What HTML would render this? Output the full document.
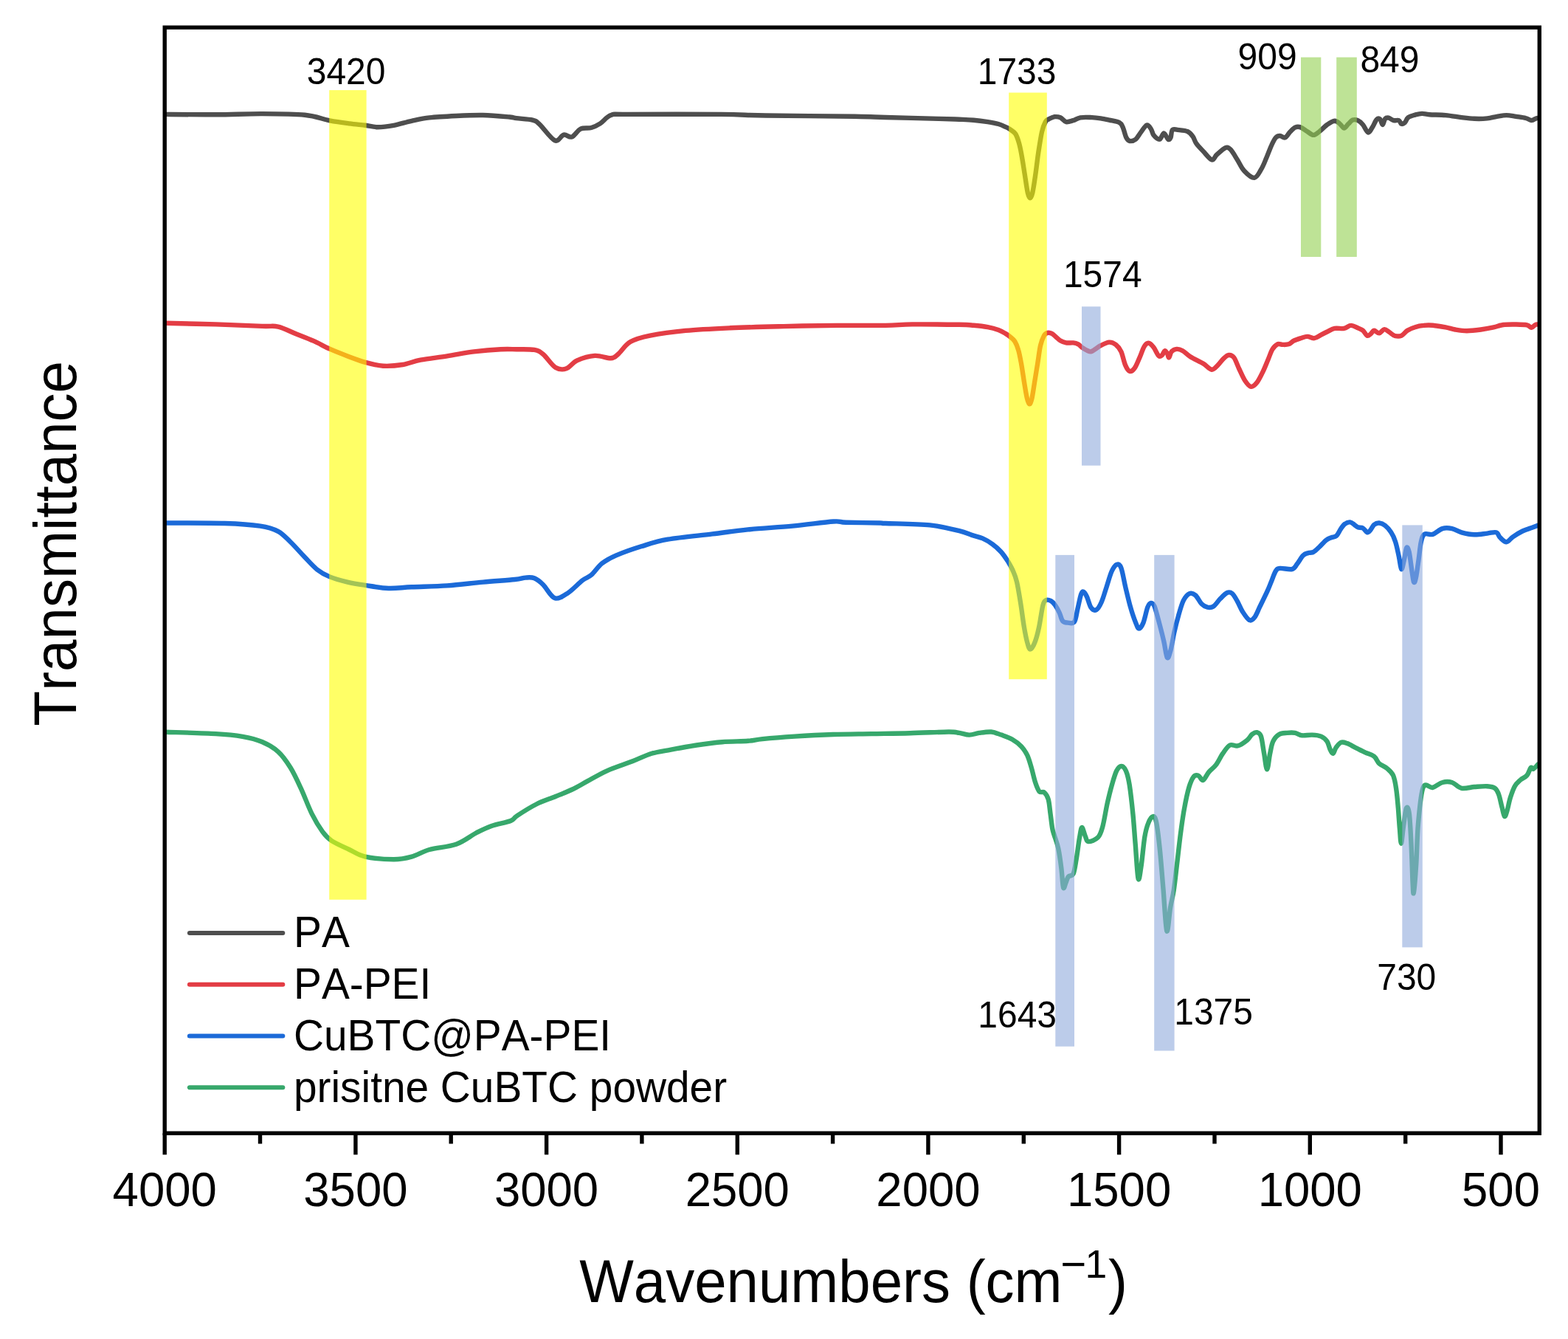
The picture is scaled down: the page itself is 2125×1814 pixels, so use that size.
<!DOCTYPE html><html><head><meta charset="utf-8"><title>FTIR spectra</title>
<style>html,body{margin:0;padding:0;background:#fff;}svg{display:block;}text{font-family:"Liberation Sans", Arial, sans-serif;fill:#000;font-kerning:none;}</style></head><body>
<svg width="2125" height="1814" viewBox="0 0 2125 1814">
<g>
<rect x="0" y="0" width="2125" height="1814" fill="#fff"/>
<path d="M224.8,154.9 C236.1,155.0 270.7,155.4 292.4,155.3 C314.1,155.2 335.0,154.0 355.1,154.1 C375.2,154.2 397.7,154.3 413.0,155.8 C428.3,157.3 436.7,161.4 446.8,163.3 C456.9,165.2 465.3,166.3 473.4,167.4 C481.4,168.5 488.7,169.0 495.1,169.8 C501.5,170.6 505.6,172.2 512.0,172.2 C518.4,172.2 526.1,171.2 533.7,169.8 C541.3,168.4 549.8,165.5 557.8,163.8 C565.8,162.1 571.9,160.5 582.0,159.4 C592.1,158.3 606.1,157.6 618.2,157.0 C630.3,156.4 642.3,155.8 654.4,156.0 C666.5,156.2 683.0,157.8 690.6,158.5 C698.2,159.2 694.8,159.5 700.0,160.2 C705.2,160.9 716.5,161.2 721.7,162.6 C726.9,164.0 726.4,164.0 731.4,168.6 C736.4,173.2 746.5,188.0 751.9,190.3 C757.3,192.6 760.2,183.4 764.0,182.6 C767.8,181.8 771.0,186.8 774.8,185.5 C778.6,184.2 782.5,176.7 786.9,174.6 C791.3,172.5 797.0,174.2 801.4,173.0 C805.8,171.8 809.0,170.2 813.4,167.4 C817.8,164.6 821.9,158.2 827.9,156.1 C833.9,154.0 824.7,155.1 849.6,154.9 C874.5,154.7 946.1,154.6 977.5,154.9 C1008.9,155.2 1007.6,156.0 1037.8,156.5 C1068.0,157.0 1131.5,157.4 1158.5,157.8 C1185.5,158.2 1181.0,158.5 1200.0,159.0 C1219.0,159.5 1255.7,160.4 1272.4,160.9 C1289.1,161.4 1292.2,161.4 1300.0,161.7 C1307.8,162.0 1312.9,162.1 1319.3,162.7 C1325.7,163.2 1333.0,164.2 1338.6,165.1 C1344.2,166.0 1349.1,166.9 1353.1,168.0 C1357.1,169.1 1360.0,170.6 1362.7,171.9 C1365.5,173.1 1367.2,174.1 1369.5,175.7 C1371.8,177.3 1374.3,178.4 1376.3,181.5 C1378.2,184.6 1379.6,188.9 1381.1,194.1 C1382.5,199.2 1383.7,205.3 1384.9,212.4 C1386.2,219.5 1387.5,228.5 1388.8,236.5 C1390.1,244.6 1391.5,255.3 1392.7,260.7 C1393.9,266.0 1394.9,268.4 1396.0,268.4 C1397.2,268.4 1398.2,266.0 1399.4,260.7 C1400.6,255.3 1402.0,245.4 1403.3,236.5 C1404.6,227.7 1405.7,217.2 1407.1,207.6 C1408.6,197.9 1410.4,185.7 1412.0,178.6 C1413.6,171.5 1415.2,168.0 1416.8,165.1 C1418.4,162.2 1419.7,162.4 1421.6,161.2 C1423.6,160.1 1425.8,158.7 1428.4,158.3 C1431.0,158.0 1434.3,158.2 1437.1,159.3 C1439.8,160.4 1441.9,164.5 1444.8,165.1 C1447.7,165.7 1451.2,164.1 1454.4,163.2 C1457.7,162.2 1459.8,160.0 1464.1,159.3 C1468.4,158.6 1475.4,159.0 1480.0,159.1 C1484.6,159.3 1487.7,159.7 1491.6,160.3 C1495.4,160.9 1498.9,161.6 1503.2,162.6 C1507.4,163.6 1514.0,164.4 1517.1,166.1 C1520.2,167.7 1520.2,169.1 1521.7,172.4 C1523.2,175.8 1524.8,183.2 1526.3,186.3 C1527.9,189.4 1528.8,190.6 1531.0,191.0 C1533.1,191.4 1536.6,190.6 1539.1,188.7 C1541.6,186.7 1543.5,182.6 1546.0,179.4 C1548.5,176.2 1551.8,170.3 1554.1,169.5 C1556.5,168.8 1558.4,172.5 1559.9,174.8 C1561.5,177.0 1561.5,180.5 1563.4,182.9 C1565.3,185.2 1569.2,189.0 1571.5,188.7 C1573.8,188.3 1575.4,180.5 1577.3,180.5 C1579.2,180.5 1581.5,187.7 1583.1,188.7 C1584.6,189.6 1585.6,188.5 1586.6,186.3 C1587.5,184.2 1587.3,177.6 1588.9,175.9 C1590.4,174.2 1592.4,175.5 1595.8,175.9 C1599.3,176.3 1606.3,176.7 1609.7,178.2 C1613.2,179.8 1614.8,182.5 1616.7,185.2 C1618.6,187.9 1619.0,191.2 1621.3,194.4 C1623.6,197.7 1627.1,201.2 1630.6,204.9 C1634.1,208.5 1639.1,215.7 1642.2,216.5 C1645.3,217.2 1646.0,212.2 1649.1,209.5 C1652.2,206.8 1657.6,201.4 1660.7,200.2 C1663.8,199.1 1664.9,199.8 1667.7,202.6 C1670.4,205.3 1673.8,211.6 1676.9,216.5 C1680.0,221.3 1682.3,227.5 1686.2,231.5 C1690.0,235.6 1696.2,241.2 1700.0,240.8 C1703.8,240.4 1706.6,233.6 1709.3,229.2 C1712.0,224.8 1713.9,219.5 1716.2,214.1 C1718.5,208.7 1721.0,201.4 1723.2,196.8 C1725.3,192.1 1727.0,188.5 1729.0,186.3 C1730.9,184.2 1732.6,184.0 1734.8,184.0 C1736.9,184.0 1739.4,187.3 1741.7,186.3 C1744.0,185.4 1746.3,180.5 1748.7,178.2 C1751.0,175.9 1753.3,173.4 1755.6,172.4 C1757.9,171.5 1759.8,171.5 1762.6,172.4 C1765.3,173.4 1768.9,176.5 1771.8,178.2 C1774.7,180.0 1777.2,182.9 1779.9,182.9 C1782.6,182.9 1784.9,180.5 1788.0,178.2 C1791.1,175.9 1795.0,171.4 1798.5,169.0 C1801.9,166.5 1806.0,163.9 1808.9,163.7 C1811.8,163.6 1813.7,166.2 1815.8,167.8 C1818.0,169.4 1819.7,173.6 1821.6,173.6 C1823.6,173.6 1825.5,169.6 1827.4,167.8 C1829.3,166.0 1831.1,163.4 1833.2,162.6 C1835.3,161.8 1837.8,162.1 1840.2,163.2 C1842.5,164.2 1844.8,166.3 1847.1,169.0 C1849.4,171.7 1851.9,178.8 1854.1,179.4 C1856.2,180.0 1857.9,175.3 1859.9,172.4 C1861.8,169.5 1863.9,163.8 1865.6,162.0 C1867.4,160.2 1868.9,160.3 1870.3,161.4 C1871.6,162.6 1872.6,169.1 1873.8,169.0 C1874.9,168.9 1875.9,162.4 1877.2,160.9 C1878.6,159.3 1879.9,159.3 1881.9,159.7 C1883.8,160.1 1886.5,162.6 1888.8,163.2 C1891.1,163.7 1894.0,162.4 1895.8,163.2 C1897.5,163.9 1897.9,167.3 1899.2,167.8 C1900.6,168.3 1902.3,167.5 1903.9,166.1 C1905.4,164.6 1906.2,160.9 1908.5,159.1 C1910.8,157.4 1914.7,156.5 1917.8,155.6 C1920.9,154.8 1923.8,154.0 1927.0,153.9 C1930.3,153.8 1932.0,154.8 1937.4,155.2 C1942.7,155.6 1951.9,155.4 1959.1,156.1 C1966.3,156.7 1974.3,158.3 1980.8,159.1 C1987.3,159.9 1992.4,160.6 1998.2,160.8 C2004.0,161.1 2010.5,160.9 2015.6,160.4 C2020.6,159.9 2024.3,158.5 2028.6,157.8 C2032.9,157.1 2037.3,156.1 2041.6,156.1 C2046.0,156.1 2050.3,157.2 2054.7,157.8 C2059.0,158.5 2064.2,159.1 2067.7,160.0 C2071.2,160.8 2073.2,162.9 2075.5,163.0 C2077.8,163.1 2080.2,160.9 2081.6,160.4 C2083.0,159.9 2083.8,160.0 2084.2,160.0" fill="none" stroke="#4e4e4e" stroke-width="6.4" stroke-linejoin="round" stroke-linecap="round"/>
<path d="M224.8,437.8 C236.1,438.1 270.7,438.7 292.4,439.4 C314.1,440.1 341.0,441.4 355.1,441.9 C369.2,442.4 369.2,440.9 376.9,442.6 C384.5,444.3 393.0,449.0 401.0,452.2 C409.0,455.4 417.5,458.5 425.1,461.9 C432.7,465.3 439.2,469.3 446.8,472.7 C454.4,476.1 462.9,479.4 471.0,482.4 C479.1,485.4 487.1,488.6 495.1,490.8 C503.1,493.0 510.8,495.2 519.2,495.7 C527.7,496.2 537.3,495.3 545.8,494.0 C554.2,492.7 559.8,489.6 569.9,487.7 C580.0,485.8 594.0,484.3 606.1,482.4 C618.2,480.5 630.2,477.9 642.3,476.4 C654.4,474.9 668.9,473.7 678.5,473.2 C688.1,472.7 692.4,473.1 700.0,473.2 C707.6,473.3 718.1,472.8 724.1,473.9 C730.1,475.0 731.4,476.0 736.2,480.0 C741.0,484.0 747.9,494.9 753.1,498.1 C758.3,501.3 762.8,500.9 767.6,499.3 C772.4,497.7 775.6,491.3 782.0,488.4 C788.4,485.5 798.6,482.4 806.2,481.9 C813.9,481.4 822.7,485.6 827.9,485.3 C833.1,485.0 833.1,483.7 837.5,480.0 C841.9,476.3 847.1,467.3 854.4,463.1 C861.6,458.9 868.5,457.1 881.0,454.6 C893.5,452.1 911.1,449.6 929.2,447.9 C947.3,446.2 967.5,445.3 989.6,444.3 C1011.7,443.3 1037.9,442.7 1062.0,442.1 C1086.1,441.5 1111.4,441.1 1134.4,440.9 C1157.4,440.7 1183.0,441.1 1200.0,440.9 C1217.0,440.6 1219.5,439.6 1236.2,439.4 C1252.9,439.2 1286.1,439.6 1300.0,439.8 C1313.9,440.0 1312.9,440.2 1319.3,440.8 C1325.7,441.3 1333.0,442.1 1338.6,443.2 C1344.2,444.2 1349.1,445.6 1353.1,447.0 C1357.1,448.5 1360.0,450.2 1362.7,451.9 C1365.5,453.5 1367.4,454.9 1369.5,456.7 C1371.6,458.4 1373.5,459.6 1375.3,462.5 C1377.1,465.4 1378.7,469.1 1380.1,474.1 C1381.6,479.0 1382.7,485.3 1384.0,492.4 C1385.3,499.5 1386.6,508.8 1387.8,516.5 C1389.1,524.2 1390.5,533.6 1391.7,538.7 C1392.9,543.9 1394.0,547.3 1395.1,547.4 C1396.2,547.6 1397.2,544.8 1398.5,539.7 C1399.7,534.5 1401.0,524.4 1402.3,516.5 C1403.6,508.6 1404.9,500.4 1406.2,492.4 C1407.5,484.4 1408.6,474.5 1410.0,468.3 C1411.5,462.0 1413.3,457.6 1414.9,454.7 C1416.5,451.9 1417.9,451.4 1419.7,450.9 C1421.5,450.4 1423.6,450.9 1425.5,451.9 C1427.4,452.8 1429.3,455.1 1431.3,456.7 C1433.2,458.3 1434.8,460.2 1437.1,461.5 C1439.3,462.8 1441.9,463.9 1444.8,464.4 C1447.7,464.9 1451.7,464.1 1454.4,464.4 C1457.2,464.7 1459.1,465.2 1461.2,466.3 C1463.3,467.5 1464.9,469.7 1467.0,471.2 C1469.1,472.6 1471.7,474.2 1473.7,475.0 C1475.8,475.8 1476.6,477.1 1479.5,476.0 C1482.5,474.9 1487.6,470.3 1491.6,468.2 C1495.5,466.2 1499.7,463.8 1503.2,463.6 C1506.6,463.4 1509.7,464.9 1512.4,467.1 C1515.1,469.2 1517.3,471.7 1519.4,476.3 C1521.5,481.0 1523.2,490.4 1525.2,494.9 C1527.1,499.3 1528.8,502.4 1531.0,503.0 C1533.1,503.6 1535.6,501.6 1537.9,498.3 C1540.2,495.1 1542.7,488.1 1544.9,483.3 C1547.0,478.5 1548.7,472.5 1550.7,469.4 C1552.6,466.3 1554.3,464.6 1556.5,464.8 C1558.6,464.9 1561.1,467.6 1563.4,470.5 C1565.7,473.4 1568.4,480.4 1570.4,482.1 C1572.3,483.9 1573.6,482.1 1575.0,481.0 C1576.3,479.8 1577.3,475.6 1578.5,475.2 C1579.6,474.8 1581.0,477.1 1581.9,478.7 C1582.9,480.2 1583.3,484.8 1584.3,484.4 C1585.2,484.1 1586.0,478.3 1587.7,476.3 C1589.5,474.4 1592.2,473.1 1594.7,472.9 C1597.2,472.7 1599.7,473.4 1602.8,475.2 C1605.9,476.9 1608.6,480.4 1613.2,483.3 C1617.8,486.2 1625.8,489.7 1630.6,492.6 C1635.4,495.4 1638.9,500.3 1642.2,500.7 C1645.5,501.0 1647.6,497.4 1650.3,494.9 C1653.0,492.4 1655.9,487.9 1658.4,485.6 C1660.9,483.3 1663.0,481.2 1665.3,481.0 C1667.7,480.8 1670.0,481.4 1672.3,484.4 C1674.6,487.5 1676.7,494.3 1679.2,499.5 C1681.7,504.7 1684.6,511.7 1687.3,515.7 C1690.0,519.8 1692.7,523.4 1695.5,523.8 C1698.2,524.2 1700.9,521.4 1703.6,518.0 C1706.2,514.6 1709.1,508.5 1711.6,503.4 C1714.1,498.3 1716.4,492.2 1718.5,487.2 C1720.7,482.2 1722.2,476.8 1724.3,473.3 C1726.4,469.8 1729.0,467.4 1731.3,466.3 C1733.6,465.3 1735.7,466.9 1738.2,466.9 C1740.7,466.9 1743.8,467.2 1746.3,466.3 C1748.8,465.5 1750.6,463.1 1753.3,461.7 C1756.0,460.3 1759.5,459.2 1762.6,458.2 C1765.6,457.3 1768.7,455.9 1771.8,455.9 C1774.9,455.9 1778.0,458.6 1781.1,458.2 C1784.2,457.8 1787.3,455.1 1790.4,453.6 C1793.4,452.0 1796.5,450.4 1799.6,449.0 C1802.7,447.5 1805.2,445.6 1808.9,444.9 C1812.6,444.2 1818.0,445.6 1821.6,444.9 C1825.3,444.2 1827.8,440.9 1830.9,440.9 C1834.0,440.8 1837.5,443.2 1840.2,444.3 C1842.9,445.5 1845.0,446.1 1847.1,447.8 C1849.2,449.5 1851.2,454.0 1852.9,454.8 C1854.6,455.5 1856.0,453.6 1857.5,452.4 C1859.1,451.3 1860.2,448.0 1862.2,447.8 C1864.1,447.6 1866.8,451.6 1869.1,451.3 C1871.4,451.0 1873.8,446.3 1876.1,446.1 C1878.4,445.9 1880.7,448.7 1883.0,450.1 C1885.3,451.6 1887.3,454.0 1890.0,454.8 C1892.7,455.5 1896.3,455.9 1899.2,454.8 C1902.1,453.6 1904.3,449.7 1907.3,447.8 C1910.4,445.9 1914.1,444.3 1917.8,443.2 C1921.4,442.0 1925.4,441.2 1929.4,440.9 C1933.3,440.5 1936.8,440.4 1941.7,440.8 C1946.7,441.3 1954.0,442.5 1959.1,443.4 C1964.2,444.4 1967.4,445.7 1972.1,446.5 C1976.9,447.3 1982.0,448.2 1987.8,448.2 C1993.6,448.2 2000.8,447.3 2006.9,446.5 C2013.0,445.7 2019.2,444.5 2024.3,443.4 C2029.3,442.4 2032.2,440.6 2037.3,440.0 C2042.4,439.3 2049.3,439.5 2054.7,439.5 C2060.0,439.6 2066.0,439.7 2069.4,440.4 C2072.9,441.1 2073.6,444.0 2075.5,443.9 C2077.4,443.8 2079.3,440.7 2080.7,440.0 C2082.2,439.2 2083.6,439.6 2084.2,439.5" fill="none" stroke="#e33d45" stroke-width="6.4" stroke-linejoin="round" stroke-linecap="round"/>
<path d="M224.8,708.5 C238.1,708.6 283.2,708.3 304.5,709.0 C325.8,709.7 340.6,710.8 352.7,712.6 C364.8,714.4 370.1,716.2 376.9,719.8 C383.7,723.4 387.7,728.5 393.7,734.3 C399.7,740.1 407.0,748.6 413.0,754.8 C419.0,761.0 424.3,767.3 429.9,771.7 C435.5,776.1 439.9,778.6 446.8,781.4 C453.7,784.2 462.9,786.7 471.0,788.6 C479.1,790.5 485.9,791.5 495.1,792.9 C504.4,794.3 516.0,796.6 526.5,797.0 C537.0,797.4 544.5,795.9 557.8,795.3 C571.1,794.7 590.0,794.5 606.1,793.4 C622.2,792.3 639.1,790.0 654.4,788.6 C669.7,787.2 688.2,786.0 697.8,785.0 C707.4,784.0 707.7,782.9 712.1,782.6 C716.5,782.3 720.1,781.7 724.1,783.3 C728.1,784.9 731.6,787.7 736.2,792.2 C740.8,796.7 746.3,808.5 751.9,810.3 C757.5,812.1 763.8,807.1 770.0,803.1 C776.2,799.1 784.1,790.2 789.3,786.2 C794.5,782.2 797.0,782.7 801.4,778.9 C805.8,775.1 810.2,767.7 815.8,763.3 C821.4,758.9 826.2,756.2 835.1,752.4 C844.0,748.6 857.2,743.9 868.9,740.3 C880.6,736.7 889.0,733.5 905.1,730.7 C921.2,727.9 947.3,725.6 965.4,723.4 C983.5,721.2 995.6,719.2 1013.7,717.4 C1031.8,715.6 1054.7,714.4 1074.0,712.6 C1093.3,710.8 1117.4,707.3 1129.5,706.5 C1141.6,705.7 1135.9,707.5 1146.4,707.8 C1156.9,708.1 1183.4,708.3 1192.3,708.5 C1201.2,708.7 1188.7,708.5 1200.0,709.0 C1211.3,709.5 1243.6,709.7 1260.3,711.4 C1277.0,713.1 1290.6,717.0 1300.0,719.2 C1309.4,721.5 1311.7,723.2 1317.0,724.9 C1322.2,726.6 1326.9,727.3 1331.7,729.4 C1336.4,731.5 1341.1,734.3 1345.2,737.3 C1349.4,740.3 1353.1,743.7 1356.5,747.5 C1359.9,751.3 1362.9,755.8 1365.6,759.9 C1368.2,764.1 1370.3,767.6 1372.4,772.4 C1374.4,777.1 1376.1,780.3 1378.0,788.2 C1379.9,796.1 1381.9,809.6 1383.6,820.0 C1385.2,830.3 1386.5,841.7 1388.0,850.0 C1389.4,858.4 1390.8,865.1 1392.1,870.0 C1393.5,875.0 1394.5,879.6 1396.2,879.6 C1397.9,879.6 1400.6,875.0 1402.5,870.0 C1404.5,865.1 1406.2,858.4 1408.0,850.0 C1409.8,841.7 1411.8,826.1 1413.4,820.0 C1415.0,813.8 1415.8,814.0 1417.6,813.1 C1419.4,812.1 1422.3,813.1 1424.4,814.2 C1426.4,815.3 1428.1,817.2 1430.0,819.8 C1431.9,822.5 1434.0,826.4 1435.7,830.0 C1437.4,833.6 1438.3,839.1 1440.2,841.3 C1442.1,843.6 1444.3,843.4 1447.0,843.6 C1449.6,843.8 1453.8,845.7 1456.0,842.5 C1458.3,839.3 1459.0,830.6 1460.5,824.4 C1462.1,818.1 1463.7,808.9 1465.1,805.1 C1466.4,801.4 1467.1,801.2 1468.5,801.8 C1469.8,802.3 1471.3,805.0 1473.0,808.5 C1474.7,812.1 1476.5,820.3 1478.6,823.2 C1480.8,826.2 1483.4,827.4 1485.8,826.1 C1488.1,824.9 1490.4,820.9 1492.7,815.7 C1495.1,810.5 1497.4,801.8 1499.7,794.9 C1502.0,787.9 1504.3,779.0 1506.6,774.0 C1509.0,769.0 1511.5,765.5 1513.6,764.8 C1515.7,764.0 1517.5,764.4 1519.4,769.4 C1521.3,774.4 1523.1,786.0 1525.2,794.9 C1527.3,803.7 1529.8,814.6 1532.1,822.7 C1534.4,830.8 1537.1,838.7 1539.1,843.5 C1541.0,848.3 1542.0,851.6 1543.7,851.6 C1545.4,851.6 1547.6,848.3 1549.5,843.5 C1551.4,838.7 1553.6,827.1 1555.3,822.7 C1557.0,818.2 1558.4,817.1 1559.9,816.9 C1561.5,816.7 1562.6,816.7 1564.6,821.5 C1566.5,826.3 1569.4,837.9 1571.5,845.8 C1573.6,853.7 1575.6,861.5 1577.3,869.0 C1579.0,876.5 1580.4,889.1 1581.9,891.0 C1583.5,892.9 1585.0,886.2 1586.6,880.6 C1588.1,875.0 1589.5,865.1 1591.2,857.4 C1592.9,849.7 1594.9,841.6 1597.0,834.3 C1599.1,826.9 1601.4,818.4 1603.9,813.4 C1606.5,808.4 1609.3,805.3 1612.1,804.1 C1614.8,803.0 1617.5,804.1 1620.2,806.5 C1622.9,808.8 1625.6,815.3 1628.3,818.0 C1631.0,820.7 1633.7,822.1 1636.4,822.7 C1639.1,823.2 1641.6,823.4 1644.5,821.5 C1647.4,819.6 1650.7,814.2 1653.8,811.1 C1656.8,808.0 1660.3,804.1 1663.0,803.0 C1665.7,801.8 1667.7,802.2 1670.0,804.1 C1672.3,806.1 1674.6,810.5 1676.9,814.6 C1679.2,818.6 1681.2,824.2 1683.9,828.5 C1686.6,832.7 1690.4,838.7 1693.1,840.0 C1695.8,841.4 1697.8,839.5 1700.1,836.6 C1702.4,833.7 1704.2,828.6 1707.0,822.7 C1709.9,816.8 1714.7,807.1 1717.4,801.2 C1720.1,795.3 1721.2,791.9 1723.2,787.3 C1725.1,782.7 1727.0,776.3 1729.0,773.4 C1730.9,770.5 1731.1,770.3 1734.8,769.9 C1738.4,769.5 1747.1,772.0 1751.0,771.1 C1754.8,770.1 1755.4,767.2 1757.9,764.1 C1760.4,761.0 1763.5,755.1 1766.0,752.6 C1768.5,750.0 1770.7,749.8 1773.0,749.1 C1775.3,748.3 1777.4,749.3 1779.9,747.9 C1782.4,746.6 1785.1,743.7 1788.0,741.0 C1790.9,738.3 1794.6,733.8 1797.3,731.7 C1800.0,729.6 1801.9,729.2 1804.3,728.2 C1806.6,727.3 1809.1,727.8 1811.2,725.9 C1813.3,724.0 1815.1,719.3 1817.0,716.6 C1818.9,713.9 1820.7,711.2 1822.8,709.7 C1824.9,708.1 1827.6,707.2 1829.7,707.4 C1831.9,707.6 1833.8,709.7 1835.5,710.9 C1837.3,712.0 1838.2,713.6 1840.2,714.3 C1842.1,715.1 1845.0,714.3 1847.1,715.5 C1849.2,716.6 1851.2,720.9 1852.9,721.3 C1854.6,721.7 1856.0,719.5 1857.5,717.8 C1859.1,716.1 1860.2,712.4 1862.2,710.9 C1864.1,709.3 1866.6,708.3 1869.1,708.5 C1871.6,708.7 1874.5,709.9 1877.2,712.0 C1879.9,714.1 1883.0,717.6 1885.3,721.3 C1887.7,724.9 1889.4,728.6 1891.1,734.0 C1892.9,739.4 1894.4,747.5 1895.8,753.7 C1897.1,759.9 1898.1,770.1 1899.2,771.1 C1900.4,772.0 1901.6,764.3 1902.7,759.5 C1903.9,754.7 1905.0,744.1 1906.2,742.1 C1907.3,740.2 1908.5,743.1 1909.7,747.9 C1910.8,752.7 1912.1,764.3 1913.1,771.1 C1914.2,777.8 1915.1,786.5 1916.0,788.5 C1917.0,790.4 1917.9,787.5 1918.9,782.7 C1920.0,777.8 1921.2,767.6 1922.4,759.5 C1923.6,751.4 1924.5,740.0 1925.9,734.0 C1927.2,728.0 1927.9,725.3 1930.5,723.6 C1933.2,721.9 1937.7,725.1 1941.7,723.9 C1945.8,722.6 1950.4,717.4 1954.8,716.1 C1959.1,714.8 1963.4,715.2 1967.8,716.1 C1972.1,716.9 1975.7,719.9 1980.8,721.3 C1985.9,722.7 1992.4,724.1 1998.2,724.3 C2004.0,724.5 2010.6,723.1 2015.6,722.6 C2020.5,722.1 2024.8,720.3 2027.7,721.3 C2030.6,722.2 2030.6,726.1 2032.9,728.2 C2035.3,730.4 2038.7,734.5 2041.6,734.3 C2044.5,734.2 2046.7,729.8 2050.3,727.4 C2053.9,724.9 2059.0,721.6 2063.4,719.5 C2067.7,717.4 2072.9,716.1 2076.4,714.8 C2079.9,713.5 2082.9,712.2 2084.2,711.7" fill="none" stroke="#1b6ad8" stroke-width="6.4" stroke-linejoin="round" stroke-linecap="round"/>
<path d="M224.8,991.7 C236.1,992.1 275.1,993.1 292.4,994.1 C309.7,995.1 318.2,996.0 328.6,997.8 C339.1,999.6 347.1,1001.6 355.1,1005.0 C363.2,1008.4 370.5,1012.5 376.9,1018.3 C383.3,1024.1 388.5,1031.6 393.7,1040.0 C398.9,1048.4 403.4,1058.5 408.2,1068.9 C413.0,1079.4 417.9,1093.0 422.7,1102.7 C427.5,1112.4 432.8,1120.9 437.2,1126.9 C441.6,1132.9 443.2,1134.9 449.2,1138.9 C455.2,1142.9 465.8,1147.4 473.4,1151.0 C481.0,1154.6 485.1,1158.4 495.1,1160.6 C505.2,1162.8 523.2,1164.3 533.7,1164.3 C544.2,1164.3 549.8,1162.8 557.8,1160.6 C565.8,1158.4 571.9,1153.8 582.0,1151.0 C592.1,1148.2 607.7,1147.4 618.2,1143.7 C628.7,1140.0 637.2,1132.7 645.2,1128.5 C653.2,1124.4 658.2,1121.7 666.1,1119.0 C673.9,1116.2 686.3,1114.4 692.1,1112.0 C697.9,1109.7 695.0,1108.9 700.8,1105.1 C706.6,1101.3 718.2,1093.8 726.9,1089.5 C735.6,1085.1 744.8,1082.4 752.9,1079.0 C761.0,1075.7 768.3,1072.9 775.5,1069.5 C782.7,1066.0 788.5,1062.4 796.4,1058.2 C804.2,1054.0 812.3,1048.8 822.4,1044.3 C832.6,1039.8 847.0,1035.2 857.2,1031.3 C867.3,1027.3 874.5,1023.4 883.2,1020.8 C891.9,1018.2 899.1,1017.5 909.3,1015.6 C919.4,1013.7 932.4,1011.3 944.0,1009.5 C955.6,1007.8 967.2,1006.1 978.8,1005.2 C990.4,1004.2 1004.6,1004.5 1013.7,1003.8 C1022.8,1003.1 1022.9,1002.1 1033.4,1001.1 C1044.0,1000.0 1060.9,998.6 1076.9,997.6 C1092.8,996.6 1111.6,995.6 1129.0,995.0 C1146.4,994.4 1163.7,994.4 1181.1,994.1 C1198.5,993.8 1215.9,993.7 1233.2,993.2 C1250.6,992.8 1274.2,991.6 1285.3,991.5 C1296.5,991.4 1295.3,992.2 1300.0,992.9 C1304.7,993.6 1309.0,995.6 1313.6,995.6 C1318.1,995.6 1322.2,993.6 1327.1,992.9 C1332.1,992.2 1338.4,991.1 1343.4,991.5 C1348.4,992.0 1352.2,993.9 1357.0,995.6 C1361.7,997.3 1367.4,999.1 1371.9,1001.7 C1376.4,1004.3 1380.7,1007.6 1384.1,1011.2 C1387.5,1014.8 1390.0,1018.7 1392.3,1023.4 C1394.5,1028.2 1395.9,1033.6 1397.7,1039.7 C1399.5,1045.8 1401.3,1054.6 1403.1,1060.1 C1404.9,1065.5 1406.5,1070.0 1408.5,1072.3 C1410.6,1074.5 1413.3,1071.8 1415.3,1073.6 C1417.4,1075.4 1419.4,1078.4 1420.8,1083.1 C1422.1,1087.9 1422.6,1095.6 1423.5,1102.1 C1424.4,1108.7 1425.3,1117.5 1426.2,1122.5 C1427.1,1127.4 1427.5,1127.4 1428.9,1132.0 C1430.3,1136.5 1432.7,1142.1 1434.3,1149.6 C1435.9,1157.1 1437.3,1167.9 1438.4,1176.7 C1439.5,1185.6 1440.1,1199.4 1441.1,1202.5 C1442.1,1205.7 1443.4,1198.2 1444.5,1195.7 C1445.6,1193.3 1446.2,1189.6 1447.9,1187.6 C1449.6,1185.6 1452.9,1187.6 1454.7,1183.5 C1456.5,1179.5 1457.4,1171.1 1458.8,1163.2 C1460.1,1155.3 1461.6,1143.0 1462.8,1136.0 C1464.1,1129.0 1464.9,1121.6 1466.2,1121.1 C1467.6,1120.7 1469.5,1130.2 1471.0,1133.3 C1472.4,1136.5 1472.2,1139.9 1475.0,1140.1 C1477.9,1140.3 1484.7,1137.9 1487.9,1134.6 C1491.1,1131.3 1492.1,1128.0 1494.2,1120.3 C1496.4,1112.7 1498.5,1098.1 1500.6,1088.6 C1502.7,1079.2 1504.8,1070.7 1506.9,1063.3 C1509.0,1055.9 1511.1,1048.5 1513.2,1044.3 C1515.4,1040.1 1517.5,1038.0 1519.6,1038.0 C1521.7,1038.0 1524.1,1040.1 1525.9,1044.3 C1527.8,1048.5 1529.1,1053.6 1530.7,1063.3 C1532.2,1073.1 1534.1,1089.7 1535.4,1102.9 C1536.7,1116.1 1537.4,1128.0 1538.6,1142.5 C1539.8,1157.0 1541.2,1184.7 1542.5,1190.0 C1543.8,1195.2 1545.0,1183.4 1546.5,1174.1 C1547.9,1164.9 1549.7,1144.3 1551.2,1134.6 C1552.8,1124.8 1554.1,1120.3 1556.0,1115.6 C1557.8,1110.8 1560.5,1106.3 1562.3,1106.1 C1564.2,1105.8 1565.5,1106.6 1567.1,1114.0 C1568.6,1121.4 1570.2,1135.1 1571.8,1150.4 C1573.4,1165.7 1575.0,1187.3 1576.6,1205.8 C1578.1,1224.3 1579.7,1257.2 1581.3,1261.2 C1582.9,1265.2 1584.5,1238.8 1586.1,1229.5 C1587.6,1220.3 1589.2,1216.3 1590.8,1205.8 C1592.4,1195.2 1594.0,1179.4 1595.6,1166.2 C1597.1,1153.0 1598.7,1138.5 1600.3,1126.6 C1601.9,1114.8 1603.2,1105.0 1605.1,1095.0 C1606.9,1085.0 1609.3,1073.6 1611.4,1066.5 C1613.5,1059.4 1615.6,1054.9 1617.7,1052.2 C1619.8,1049.6 1621.9,1049.9 1624.1,1050.7 C1626.2,1051.4 1628.0,1057.8 1630.4,1057.0 C1632.8,1056.2 1635.4,1049.3 1638.3,1045.9 C1641.2,1042.5 1644.6,1040.6 1647.8,1036.4 C1651.0,1032.2 1654.1,1025.1 1657.3,1020.6 C1660.5,1016.1 1663.4,1011.2 1666.8,1009.5 C1670.2,1007.8 1673.9,1011.5 1677.9,1010.3 C1681.8,1009.1 1687.4,1004.9 1690.5,1002.4 C1693.7,999.8 1694.6,996.6 1696.8,994.9 C1699.0,993.2 1701.5,991.8 1703.6,992.2 C1705.6,992.7 1707.4,992.9 1709.0,997.6 C1710.6,1002.4 1711.7,1013.2 1713.1,1020.7 C1714.4,1028.2 1715.8,1042.4 1717.1,1042.4 C1718.5,1042.4 1719.8,1027.0 1721.2,1020.7 C1722.6,1014.4 1723.2,1008.7 1725.3,1004.4 C1727.3,1000.1 1730.2,996.8 1733.4,994.9 C1736.6,993.0 1740.6,993.2 1744.3,992.9 C1747.9,992.5 1751.7,992.3 1755.1,992.9 C1758.5,993.5 1760.8,995.8 1764.6,996.3 C1768.5,996.7 1773.9,995.4 1778.2,995.6 C1782.5,995.8 1787.0,996.2 1790.4,997.6 C1793.8,999.1 1796.5,1001.5 1798.5,1004.4 C1800.6,1007.4 1801.2,1012.6 1802.6,1015.3 C1804.0,1018.0 1805.3,1021.2 1806.7,1020.7 C1808.0,1020.2 1808.9,1015.0 1810.7,1012.6 C1812.6,1010.1 1815.0,1006.7 1817.5,1005.8 C1820.0,1004.9 1822.5,1006.0 1825.7,1007.1 C1828.8,1008.3 1832.5,1010.5 1836.5,1012.6 C1840.6,1014.6 1845.8,1017.3 1850.1,1019.3 C1854.4,1021.4 1859.1,1022.3 1862.3,1024.8 C1865.5,1027.3 1866.1,1031.6 1869.1,1034.3 C1872.0,1037.0 1876.8,1038.3 1879.9,1041.1 C1883.1,1043.8 1886.0,1046.0 1888.1,1050.5 C1890.1,1055.1 1891.0,1060.7 1892.1,1068.2 C1893.3,1075.6 1894.1,1086.3 1894.9,1095.3 C1895.6,1104.4 1896.2,1114.5 1896.9,1122.5 C1897.6,1130.4 1898.1,1142.8 1898.9,1142.8 C1899.7,1142.8 1900.5,1130.4 1901.6,1122.5 C1902.8,1114.5 1904.4,1098.7 1905.7,1095.3 C1907.1,1091.9 1908.6,1094.2 1909.8,1102.1 C1910.9,1110.0 1911.7,1127.4 1912.5,1142.8 C1913.3,1158.2 1914.0,1183.3 1914.5,1194.4 C1915.1,1205.4 1915.1,1213.3 1915.9,1209.3 C1916.7,1205.2 1918.3,1185.5 1919.3,1169.9 C1920.3,1154.3 1920.4,1132.8 1922.0,1115.7 C1923.6,1098.5 1925.4,1075.0 1928.7,1066.9 C1932.0,1058.8 1937.4,1068.1 1941.7,1066.9 C1946.1,1065.8 1950.4,1061.1 1954.8,1060.0 C1959.1,1058.8 1963.4,1058.7 1967.8,1060.0 C1972.1,1061.3 1975.7,1066.8 1980.8,1067.8 C1985.9,1068.8 1992.4,1066.5 1998.2,1066.0 C2004.0,1065.6 2010.9,1064.9 2015.6,1065.2 C2020.2,1065.5 2023.4,1065.9 2026.0,1067.8 C2028.6,1069.7 2029.6,1072.1 2031.2,1076.5 C2032.8,1080.8 2034.2,1088.9 2035.6,1093.8 C2036.9,1098.8 2037.9,1105.3 2039.0,1106.0 C2040.2,1106.7 2041.2,1102.4 2042.5,1098.2 C2043.8,1094.0 2045.1,1086.3 2046.8,1080.8 C2048.6,1075.3 2050.6,1069.2 2052.9,1065.2 C2055.2,1061.1 2058.0,1059.0 2060.7,1056.5 C2063.5,1054.0 2067.1,1053.2 2069.4,1050.4 C2071.8,1047.7 2073.2,1041.4 2074.6,1040.0 C2076.1,1038.5 2076.5,1042.4 2078.1,1041.7 C2079.7,1041.0 2083.2,1036.7 2084.2,1035.6" fill="none" stroke="#37a86c" stroke-width="6.4" stroke-linejoin="round" stroke-linecap="round"/>
<rect x="446.2" y="122.1" width="50.4" height="1096.7" fill="#ffff00" fill-opacity="0.6"/>
<rect x="1367.2" y="125.5" width="51.6" height="794.7" fill="#ffff00" fill-opacity="0.6"/>
<rect x="1763.0" y="77.6" width="27.3" height="270.4" fill="#92d050" fill-opacity="0.6"/>
<rect x="1811.2" y="77.6" width="27.6" height="270.4" fill="#92d050" fill-opacity="0.6"/>
<rect x="1466.0" y="415.3" width="25.5" height="215.4" fill="#8faadc" fill-opacity="0.6"/>
<rect x="1430.3" y="751.9" width="25.7" height="665.8" fill="#8faadc" fill-opacity="0.6"/>
<rect x="1564.2" y="751.9" width="27.4" height="671.6" fill="#8faadc" fill-opacity="0.6"/>
<rect x="1900.3" y="711.4" width="27.5" height="572.0" fill="#8faadc" fill-opacity="0.6"/>
<rect x="223.2" y="37.2" width="1863.1" height="1498.0" fill="none" stroke="#000" stroke-width="5.4" stroke-linejoin="miter"/>
<line x1="223.2" y1="1535.2" x2="223.2" y2="1564.3" stroke="#000" stroke-width="5.4"/>
<line x1="352.5" y1="1535.2" x2="352.5" y2="1549.5" stroke="#000" stroke-width="5.4"/>
<line x1="481.9" y1="1535.2" x2="481.9" y2="1564.3" stroke="#000" stroke-width="5.4"/>
<line x1="611.2" y1="1535.2" x2="611.2" y2="1549.5" stroke="#000" stroke-width="5.4"/>
<line x1="740.6" y1="1535.2" x2="740.6" y2="1564.3" stroke="#000" stroke-width="5.4"/>
<line x1="869.9" y1="1535.2" x2="869.9" y2="1549.5" stroke="#000" stroke-width="5.4"/>
<line x1="999.3" y1="1535.2" x2="999.3" y2="1564.3" stroke="#000" stroke-width="5.4"/>
<line x1="1128.6" y1="1535.2" x2="1128.6" y2="1549.5" stroke="#000" stroke-width="5.4"/>
<line x1="1257.9" y1="1535.2" x2="1257.9" y2="1564.3" stroke="#000" stroke-width="5.4"/>
<line x1="1387.3" y1="1535.2" x2="1387.3" y2="1549.5" stroke="#000" stroke-width="5.4"/>
<line x1="1516.6" y1="1535.2" x2="1516.6" y2="1564.3" stroke="#000" stroke-width="5.4"/>
<line x1="1646.0" y1="1535.2" x2="1646.0" y2="1549.5" stroke="#000" stroke-width="5.4"/>
<line x1="1775.3" y1="1535.2" x2="1775.3" y2="1564.3" stroke="#000" stroke-width="5.4"/>
<line x1="1904.7" y1="1535.2" x2="1904.7" y2="1549.5" stroke="#000" stroke-width="5.4"/>
<line x1="2034.0" y1="1535.2" x2="2034.0" y2="1564.3" stroke="#000" stroke-width="5.4"/>
<text transform="translate(223.20,1634.00) scale(1,1.010)" font-size="63.5" text-anchor="middle">4000</text>
<text transform="translate(481.89,1634.00) scale(1,1.010)" font-size="63.5" text-anchor="middle">3500</text>
<text transform="translate(740.57,1634.00) scale(1,1.010)" font-size="63.5" text-anchor="middle">3000</text>
<text transform="translate(999.26,1634.00) scale(1,1.010)" font-size="63.5" text-anchor="middle">2500</text>
<text transform="translate(1257.94,1634.00) scale(1,1.010)" font-size="63.5" text-anchor="middle">2000</text>
<text transform="translate(1516.63,1634.00) scale(1,1.010)" font-size="63.5" text-anchor="middle">1500</text>
<text transform="translate(1775.31,1634.00) scale(1,1.010)" font-size="63.5" text-anchor="middle">1000</text>
<text transform="translate(2034.00,1634.00) scale(1,1.010)" font-size="63.5" text-anchor="middle">500</text>
<text transform="translate(785.20,1764.20) scale(1,1.040)" font-size="78.0">Wavenumbers (cm</text>
<text transform="translate(1437.20,1732.70)" font-size="60.0">&#8722;</text>
<text transform="translate(1470.60,1731.20)" font-size="53.5">1</text>
<text transform="translate(1502.00,1764.20) scale(1,1.040)" font-size="78.0">)</text>
<text transform="translate(103.30,736.30) rotate(-90) scale(1,1.040)" font-size="78.1" text-anchor="middle">Transmittance</text>
<text transform="translate(415.70,114.40) scale(1,1.025)" font-size="48.0">3420</text>
<text transform="translate(1324.70,114.40) scale(1,1.025)" font-size="48.0">1733</text>
<text transform="translate(1677.50,94.00) scale(1,1.025)" font-size="48.0">909</text>
<text transform="translate(1843.40,97.80) scale(1,1.025)" font-size="48.0">849</text>
<text transform="translate(1440.90,389.40) scale(1,1.025)" font-size="48.0">1574</text>
<text transform="translate(1325.30,1391.60) scale(1,1.025)" font-size="48.0">1643</text>
<text transform="translate(1591.20,1387.70) scale(1,1.025)" font-size="48.0">1375</text>
<text transform="translate(1866.20,1341.20) scale(1,1.025)" font-size="48.0">730</text>
<line x1="256.8" y1="1263.9" x2="383.3" y2="1263.9" stroke="#4e4e4e" stroke-width="6.0" stroke-linecap="round"/>
<text transform="translate(398.00,1283.20) scale(1,1.040)" font-size="56.8">PA</text>
<line x1="256.8" y1="1333.7" x2="383.3" y2="1333.7" stroke="#e33d45" stroke-width="6.0" stroke-linecap="round"/>
<text transform="translate(398.00,1353.00) scale(1,1.040)" font-size="56.8">PA-PEI</text>
<line x1="256.8" y1="1403.5" x2="383.3" y2="1403.5" stroke="#1b6ad8" stroke-width="6.0" stroke-linecap="round"/>
<text transform="translate(398.00,1422.80) scale(1,1.040)" font-size="56.8">CuBTC@PA-PEI</text>
<line x1="256.8" y1="1473.3" x2="383.3" y2="1473.3" stroke="#37a86c" stroke-width="6.0" stroke-linecap="round"/>
<text transform="translate(398.00,1492.60) scale(1,1.040)" font-size="56.8">prisitne CuBTC powder</text>
</g>
</svg></body></html>
